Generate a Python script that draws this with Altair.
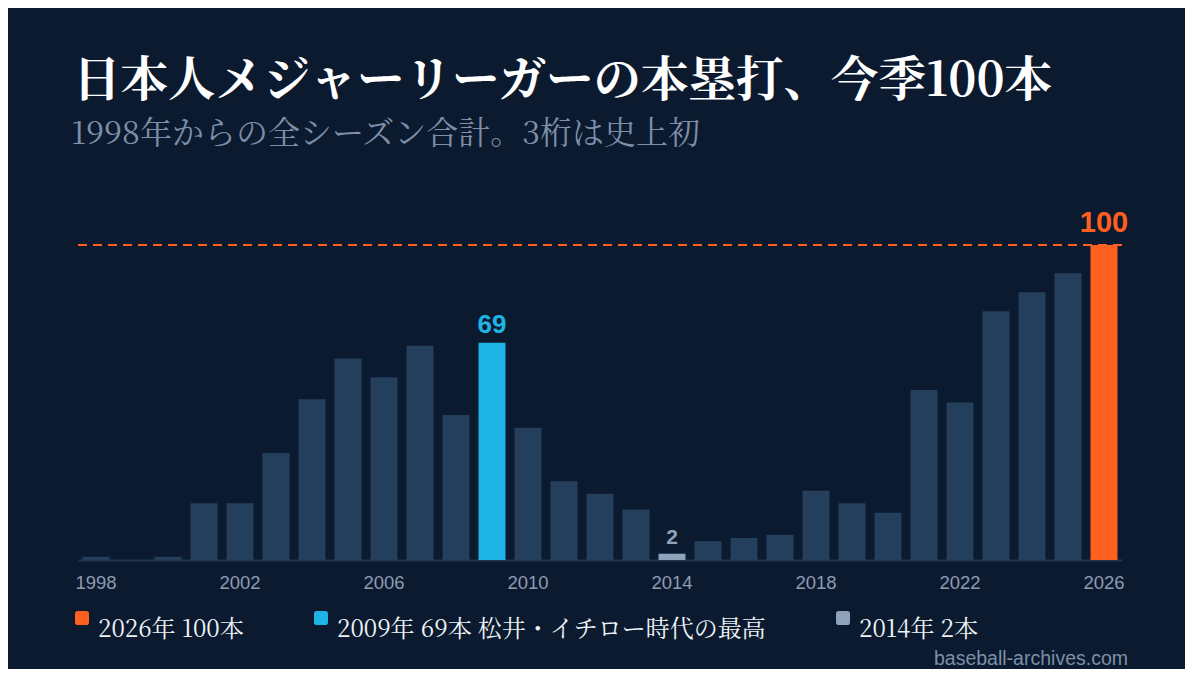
import altair as alt
import pandas as pd

# ---- data ----
years = list(range(1998, 2027))
home_runs = [1, 0, 1, 18, 18, 34, 51, 64, 58, 68, 46, 69, 42, 25, 21, 16, 2,
             6, 7, 8, 22, 18, 15, 54, 50, 79, 85, 91, 100]
highlight_years = [2026, 2009, 2014]
highlight_values = [100, 69, 2]
highlight_colors = ["#ff5f1f", "#1fb4e6", "#8fa2bb"]
legend_labels = ["2026年 100本", "2009年 69本 松井・イチロー時代の最高", "2014年 2本"]
tick_years = [1998, 2002, 2006, 2010, 2014, 2018, 2022, 2026]

title_text = "日本人メジャーリーガーの本塁打、今季100本"
subtitle_text = "1998年からの全シーズン合計。3桁は史上初"
source_text = "baseball-archives.com"

BG = "#0b1a2e"
BAR = "#243f5c"
SERIF = "Noto Serif CJK JP, Noto Serif JP, serif"
SANS = "Liberation Sans, Arial, Helvetica, sans-serif"

groups = ["normal", "y2026", "y2009", "y2014"]
group_colors = [BAR] + highlight_colors
group_of = dict(zip(highlight_years, groups[1:]))
df = pd.DataFrame({
    "year": years,
    "hr": home_runs,
    "grp": [group_of.get(y, "normal") for y in years],
})
legend_df = pd.DataFrame({"item": legend_labels})

W, H = 1044, 315
x_enc = alt.X("year:O", title=None,
              scale=alt.Scale(paddingInner=0.25, paddingOuter=0.125),
              axis=alt.Axis(values=tick_years, labelAngle=0, ticks=False,
                            labelPadding=13, labelFont=SANS, labelFontSize=18.5,
                            labelColor="#8b9cb3", domainColor="#22364e", domainWidth=2,
                            grid=False))
y_scale = alt.Scale(domain=[0, 100], nice=False)
fill_scale = alt.Scale(domain=groups, range=group_colors)

bars = alt.Chart(df).mark_bar().encode(
    x=x_enc,
    y=alt.Y("hr:Q", scale=y_scale, axis=None, stack=None),
    fill=alt.Fill("grp:N", scale=fill_scale, legend=None),
)


def value_label(i, size, dy):
    d = pd.DataFrame({
        "year": [highlight_years[i]],
        "hr": [highlight_values[i]],
        "grp": [groups[i + 1]],
        "label": [str(highlight_values[i])],
    })
    return alt.Chart(d).mark_text(
        font=SANS, fontWeight="bold", baseline="alphabetic", dy=dy, fontSize=size
    ).encode(
        x=alt.X("year:O"),
        y=alt.Y("hr:Q", scale=y_scale, axis=None, stack=None),
        text="label:N",
        fill=alt.Fill("grp:N", scale=fill_scale, legend=None),
    )


label_100 = value_label(0, 29, -13)
label_69 = value_label(1, 26, -10)
label_2 = value_label(2, 21, -10)

ref_line = alt.Chart(pd.DataFrame({"v": [100]})).mark_rule(
    color="#ff5f1f", strokeWidth=2, strokeDash=[9, 6]
).encode(y=alt.Y("v:Q", scale=y_scale, axis=None))

title = alt.Chart(pd.DataFrame({"t": [title_text]})).mark_text(
    font=SERIF, fontSize=47.5, fontWeight="bold", color="#ffffff",
    align="left", baseline="alphabetic"
).encode(text="t:N", x=alt.value(-5), y=alt.value(-149))

subtitle = alt.Chart(pd.DataFrame({"t": [subtitle_text]})).mark_text(
    font=SERIF, fontSize=32, color="#7d8fa8", align="left", baseline="alphabetic"
).encode(text="t:N", x=alt.value(-7), y=alt.value(-101))

source = alt.Chart(pd.DataFrame({"t": [source_text]})).mark_text(
    font=SANS, fontSize=19.5, color="#7d8fa8", align="right", baseline="alphabetic"
).encode(text="t:N", x=alt.value(1050), y=alt.value(420))

rounded_square = ("M-0.6,-1H0.6Q1,-1 1,-0.6V0.6Q1,1 0.6,1H-0.6Q-1,1 -1,0.6"
                  "V-0.6Q-1,-1 -0.6,-1Z")
legend_layer = alt.Chart(legend_df).mark_square(opacity=0, filled=True).encode(
    x=alt.value(0), y=alt.value(0),
    color=alt.Color("item:N",
                    scale=alt.Scale(domain=legend_labels, range=highlight_colors),
                    legend=alt.Legend(
                        title=None, orient="none", legendX=-8, legendY=361,
                        direction="horizontal", columnPadding=65,
                        padding=0, symbolType=rounded_square, symbolSize=196,
                        symbolOpacity=1, symbolStrokeWidth=0, labelFont=SERIF,
                        labelFontSize=24, labelColor="#eef2f7", labelLimit=700,
                        labelOffset=4, labelBaseline="top")),
)

chart = alt.layer(
    ref_line, bars, label_100, label_69, label_2, title, subtitle, source, legend_layer
).properties(
    width=W, height=H,
    padding={"left": 62, "top": 50, "right": 56, "bottom": 0},
    background=BG,
).configure_view(stroke=None)

chart.save("out.html", embed_options={"renderer": "svg", "actions": False})
